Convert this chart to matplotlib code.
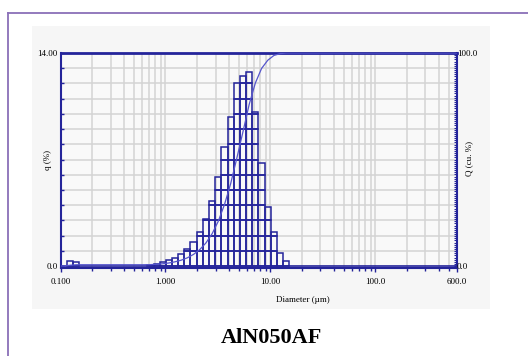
import numpy as np
import matplotlib
matplotlib.use("Agg")
import matplotlib.pyplot as plt
from matplotlib.patches import Rectangle
from matplotlib.lines import Line2D
from matplotlib.ticker import FixedLocator, NullFormatter

plt.rcParams['font.family'] = ['Liberation Serif', 'DejaVu Serif']

# ---- data ----
bin_edges = [0.1005, 0.1151, 0.1318, 0.1510, 0.1729, 0.1981, 0.2269, 0.2599,
             0.2976, 0.3409, 0.3905, 0.4472, 0.5122, 0.5867, 0.6720, 0.7697,
             0.8816, 1.005, 1.151, 1.318, 1.510, 1.729, 1.981, 2.269, 2.599,
             2.976, 3.409, 3.905, 4.472, 5.122, 5.867, 6.720, 7.697, 8.816,
             10.10, 11.56, 13.25, 15.17]
q_percent = [0.00, 0.36, 0.24, 0.00, 0.00, 0.00, 0.00, 0.00, 0.00, 0.00, 0.00,
             0.00, 0.00, 0.00, 0.06, 0.15, 0.24, 0.37, 0.55, 0.76, 1.12, 1.60,
             2.24, 3.12, 4.30, 5.88, 7.80, 9.80, 12.00, 12.50, 12.75, 10.10,
             6.80, 3.85, 2.26, 0.85, 0.30]
x_tick_values = [0.1, 1.0, 10.0, 100.0, 600.0]
x_tick_labels = ["0.100", "1.000", "10.00", "100.0", "600.0"]
title = "AlN050AF"

BLUE = '#24249a'
CURVE = '#5555cc'
GRID = '#d4d4d4'

W, H = 528, 356
fig = plt.figure(figsize=(W / 100, H / 100), dpi=100)
fig.patch.set_facecolor('white')

# purple outer frame
fig.add_artist(Line2D([8 / W, 1.0], [1 - 13 / H, 1 - 13 / H], color='#8a70b8', lw=1.3))
fig.add_artist(Line2D([8 / W, 8 / W], [1 - 13 / H, 0.0], color='#8a70b8', lw=1.3))

# gray chart panel
fig.add_artist(Rectangle((32 / W, 1 - 309 / H), (490 - 32) / W, (309 - 26) / H,
                         facecolor='#f6f6f6', edgecolor='none', zorder=0))

ax_l, ax_r, ax_t, ax_b = 60.5, 457, 53, 268
ax = fig.add_axes([ax_l / W, 1 - ax_b / H, (ax_r - ax_l) / W, (ax_b - ax_t) / H])
ax.set_facecolor('#f9f9f9')
ax.set_xscale('log')
ax.set_xlim(0.1, 600)
y0 = -0.13
ax.set_ylim(y0, 14)

# grid
minor_x = [m * 10.0 ** d for d in range(-1, 3) for m in range(2, 10) if m * 10.0 ** d < 600]
for xv in minor_x + x_tick_values[1:4]:
    ax.axvline(xv, color=GRID, lw=1.1, zorder=1)
for yv in range(1, 14):
    ax.axhline(yv, color=GRID, lw=1.1, zorder=1)

# histogram bars drawn as stacked unit cells
for i, qv in enumerate(q_percent):
    if qv <= 0:
        continue
    left, right = bin_edges[i], bin_edges[i + 1]
    k = 0
    while k < qv:
        h = min(1.0, qv - k)
        ax.bar(left, h, width=right - left, bottom=k, align='edge',
               facecolor='none', edgecolor=BLUE, linewidth=1.1, zorder=3)
        k += 1

# baseline
ax.axhline(0, color=BLUE, lw=1.2, zorder=3)

# ticks
ax.xaxis.set_major_locator(FixedLocator(x_tick_values))
ax.set_xticklabels(x_tick_labels)
ax.xaxis.set_minor_locator(FixedLocator(minor_x))
ax.xaxis.set_minor_formatter(NullFormatter())
ax.tick_params(axis='x', which='major', direction='out', length=3, width=1,
               color=BLUE, labelsize=6.5, pad=4)
ax.tick_params(axis='x', which='minor', direction='out', length=2, width=1, color=BLUE)
ax.set_yticks(range(0, 15))
ax.set_yticklabels(["0.0"] + [""] * 13 + ["14.00"])
ax.tick_params(axis='y', which='major', direction='in', length=2.5, width=1,
               color=BLUE, labelsize=6.5, pad=2)
for s in ax.spines.values():
    s.set_color(BLUE)
    s.set_linewidth(1.5)
ax.spines['top'].set_linewidth(2)

# cumulative curve on right axis (plotted at bin centres)
ax2 = ax.twinx()
ax2.set_ylim(y0 / 14 * 100, 100)
cum = np.cumsum(q_percent)
edges = np.array(bin_edges)
centres = np.sqrt(edges[:-1] * edges[1:])
cx = [0.1] + list(centres) + [600]
cy = [0.0] + list(cum) + [cum[-1]]
ax2.plot(cx, cy, color=CURVE, lw=0.9, zorder=4)
ax2.set_yticks([0, 100])
ax2.set_yticklabels(["0.0", "100.0"])
ax2.set_yticks(range(0, 101), minor=True)
ax2.tick_params(axis='y', which='major', direction='in', length=2, width=1,
                color=BLUE, labelsize=6.5, pad=0)
ax2.tick_params(axis='y', which='minor', direction='in', length=2, width=0.8, color=BLUE)
for s in ax2.spines.values():
    s.set_visible(False)

# axis labels
fig.text(48 / W, 1 - 160 / H, "q (%)", rotation=90, ha='center', va='center', fontsize=6.5)
fig.text(469 / W, 1 - 158 / H, "Q (cu. %)", rotation=90, ha='center', va='center', fontsize=6.5)
fig.text(303 / W, 1 - 300 / H, "Diameter (µm)", ha='center', va='center', fontsize=6.5)

# title
fig.text(271 / W, 1 - 338 / H, title, ha='center', va='center', fontsize=16,
         fontweight='bold')

fig.savefig("out.png", dpi=100)
